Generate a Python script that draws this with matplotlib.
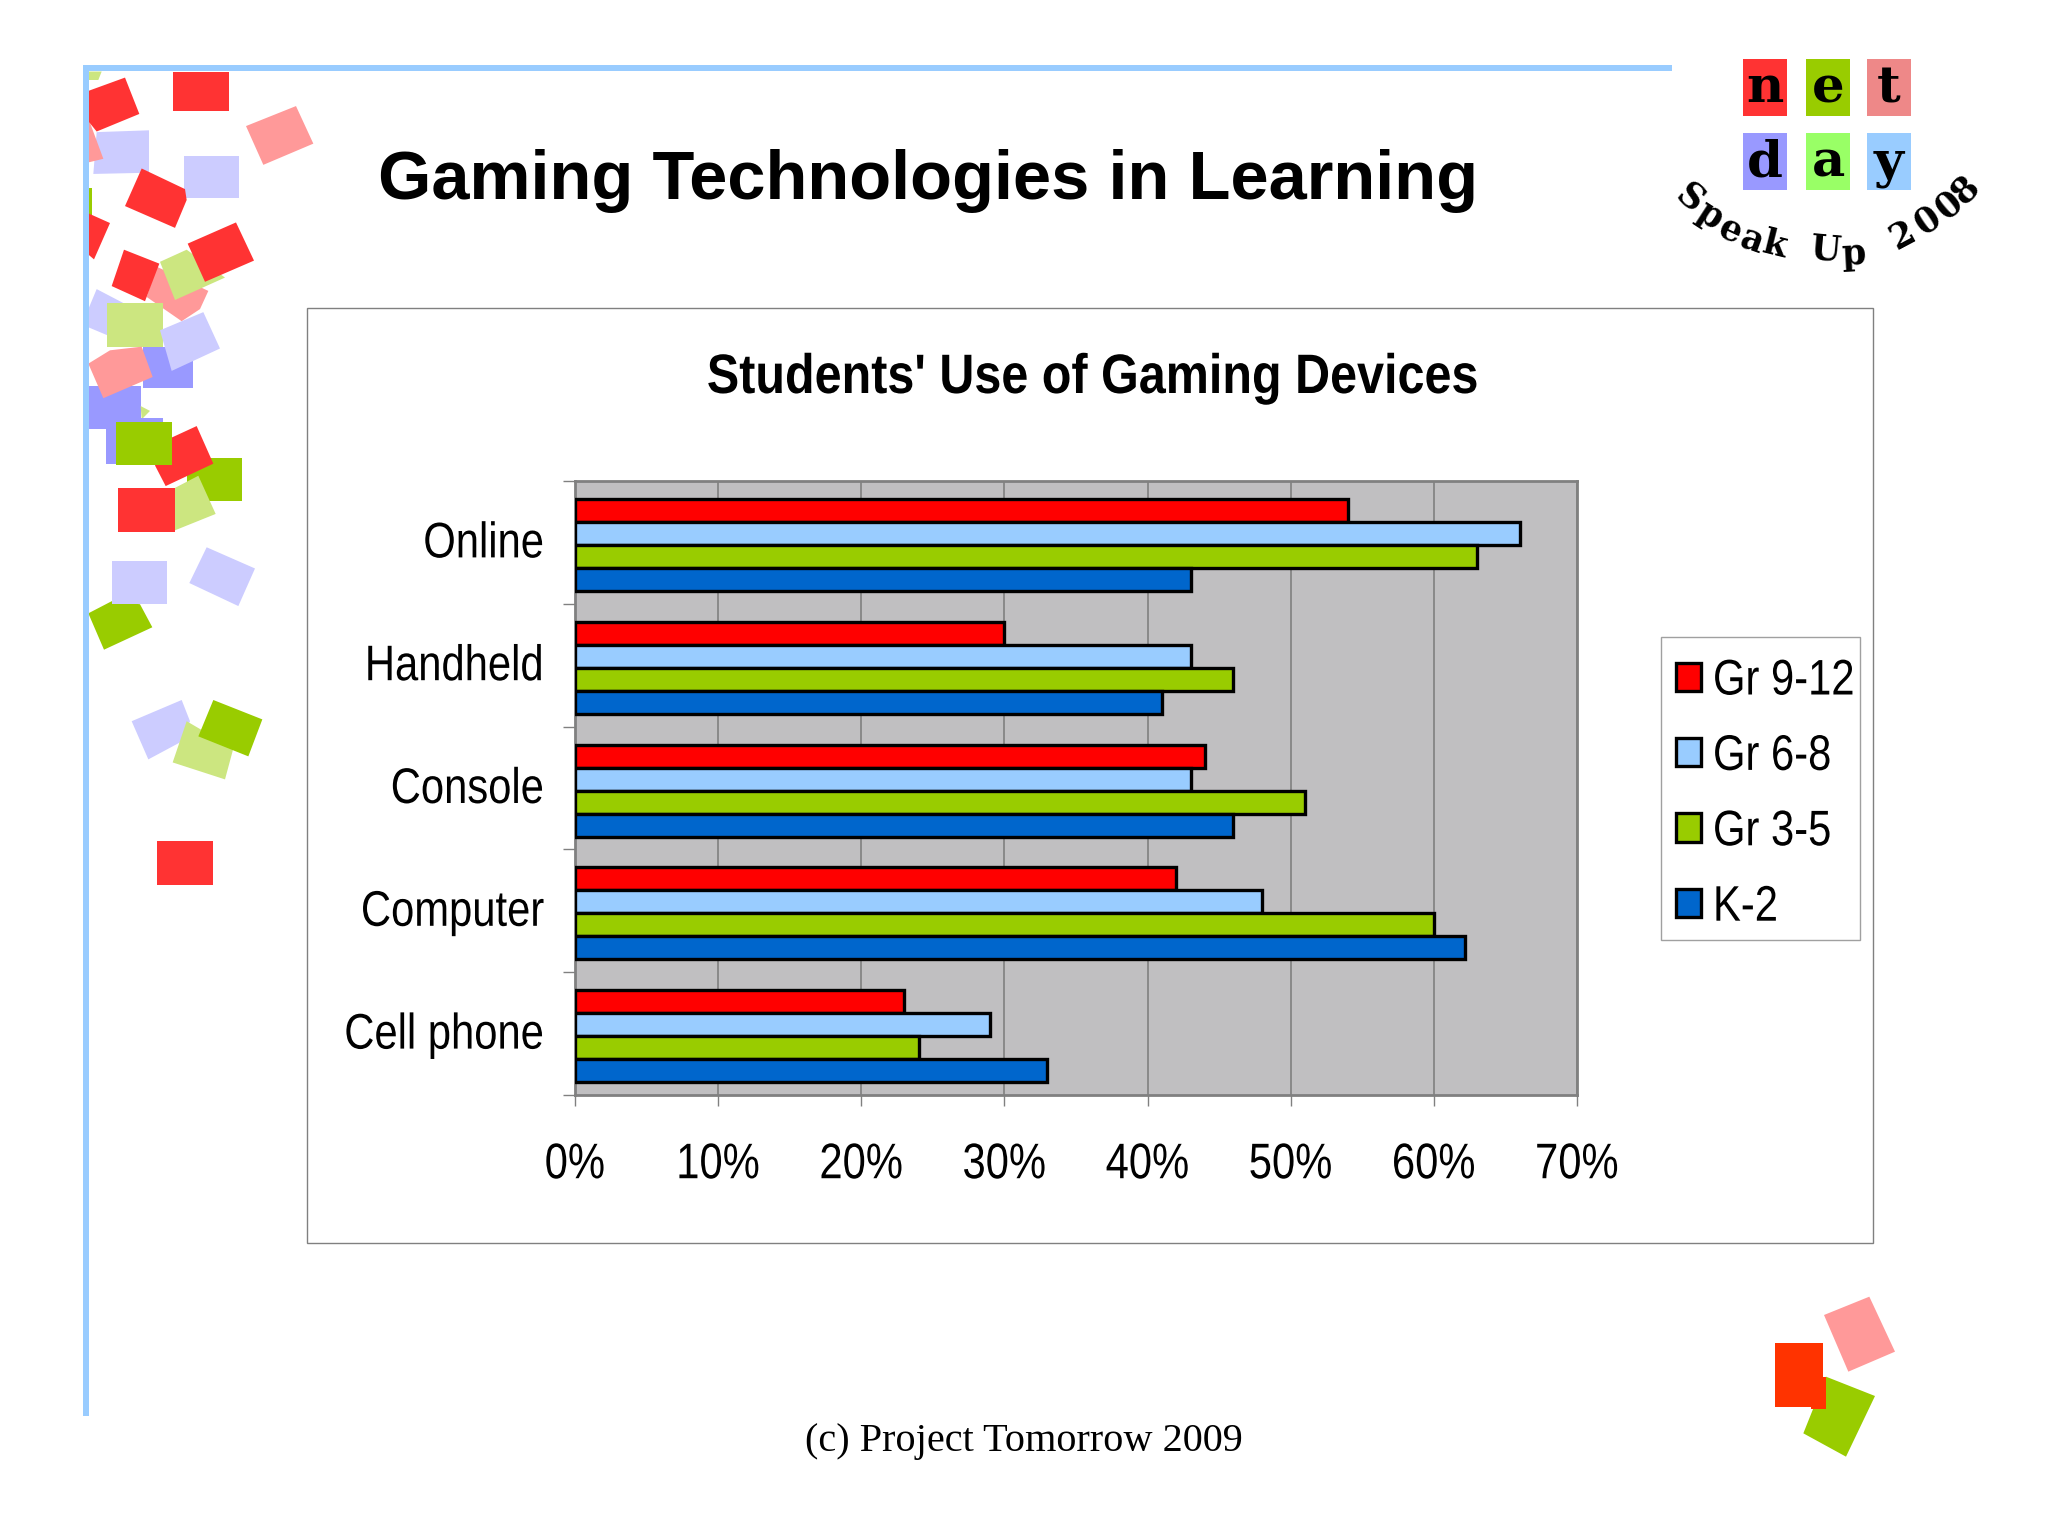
import matplotlib
matplotlib.use("Agg")
import matplotlib.pyplot as plt
from matplotlib.patches import Polygon, Rectangle
from matplotlib.patheffects import AbstractPathEffect
from matplotlib.transforms import Affine2D
import numpy as np

categories = ['Online', 'Handheld', 'Console', 'Computer', 'Cell phone']
grades = ['Gr 9-12', 'Gr 6-8', 'Gr 3-5', 'K-2']
gr_9_12 = [54, 30, 44, 42, 23]
gr_6_8 = [66, 43, 43, 48, 29]
gr_3_5 = [63, 46, 51, 60, 24]
k_2 = [43, 41, 46, 62.2, 33]
bar_colors = ['#FF0000', '#99CCFF', '#99CC00', '#0066CC']
x_ticks = [0, 10, 20, 30, 40, 50, 60, 70]

W, H = 2048, 1536
SANS = 'Liberation Sans'

RED = '#FF3333'
PINK = '#FF9999'
LAV = '#CCCCFF'
PERI = '#9999FF'
GREEN = '#99CC00'
LGREEN = '#CCE680'
BLUE = '#99CCFF'

confetti = [
    (LGREEN, [(265, 118), (305, 118), (295, 132), (265, 132)]),
    (LAV, [(290, 218), (447, 215), (447, 285), (280, 287)]),
    (PINK, [(265, 195), (310, 262), (265, 268)]),
    (RED, [(265, 150), (375, 128), (418, 188), (290, 217), (265, 200)]),
    (RED, [(520, 118), (688, 118), (688, 183), (520, 183)]),
    (PINK, [(738, 208), (888, 175), (940, 237), (790, 272)]),
    (LAV, [(552, 257), (717, 257), (717, 327), (552, 327)]),
    (RED, [(425, 278), (555, 312), (560, 330), (525, 376), (375, 340)]),
    (GREEN, [(265, 310), (275, 310), (275, 378), (265, 378)]),
    (RED, [(265, 352), (330, 368), (282, 428), (265, 420)]),
    (PINK, [(470, 440), (625, 480), (600, 510), (545, 530), (440, 490)]),
    (RED, [(372, 412), (478, 435), (435, 497), (335, 472)]),
    (LGREEN, [(480, 432), (560, 412), (675, 458), (525, 495)]),
    (RED, [(563, 402), (708, 367), (762, 430), (615, 465)]),
    (LAV, [(265, 510), (290, 477), (370, 500), (330, 555), (265, 540)]),
    (PERI, [(430, 572), (580, 572), (580, 640), (430, 640)]),
    (LGREEN, [(322, 500), (490, 500), (490, 572), (322, 572)]),
    (LAV, [(480, 545), (610, 515), (660, 575), (515, 612)]),
    (PERI, [(265, 637), (422, 637), (422, 708), (265, 708)]),
    (PINK, [(265, 600), (330, 578), (425, 572), (458, 622), (310, 657)]),
    (LGREEN, [(422, 670), (450, 678), (425, 692)]),
    (PERI, [(318, 690), (490, 690), (490, 765), (318, 765)]),
    (GREEN, [(560, 755), (725, 755), (725, 826), (560, 826)]),
    (RED, [(515, 722), (590, 703), (640, 765), (497, 802), (465, 768)]),
    (GREEN, [(347, 697), (515, 697), (515, 767), (347, 767)]),
    (LGREEN, [(525, 805), (595, 785), (647, 848), (525, 875)]),
    (RED, [(355, 805), (525, 805), (525, 877), (355, 877)]),
    (GREEN, [(265, 1012), (335, 992), (420, 997), (457, 1035), (312, 1072)]),
    (LAV, [(335, 925), (502, 925), (502, 996), (335, 996)]),
    (LAV, [(620, 903), (765, 938), (715, 1000), (568, 962)]),
    (LAV, [(395, 1190), (545, 1155), (570, 1190), (540, 1225), (445, 1253)]),
    (LGREEN, [(560, 1190), (700, 1235), (675, 1286), (518, 1258)]),
    (GREEN, [(640, 1155), (787, 1187), (745, 1248), (595, 1215)]),
    (RED, [(471, 1388), (640, 1388), (640, 1460), (471, 1460)]),
]

# the three squares at the bottom right, from a 3x crop at (1740, 1280)
corner_squares = [
    ('#FF9999', [(252, 105), (388, 50), (465, 215), (325, 275)]),
    ('#99CC00', [(258, 290), (405, 348), (318, 530), (190, 460)]),
    ('#FF3300', [(105, 190), (250, 190), (250, 290), (258, 290), (258, 388), (212, 388), (212, 382), (105, 382)]),
]

logo_letters = [
    ('n', 1743, 59, '#FF3333'), ('e', 1806, 59, '#99CC00'), ('t', 1867, 59, '#EE8888'),
    ('d', 1743, 133, '#9999FF'), ('a', 1806, 133, '#99FF66'), ('y', 1867, 133, '#99CCFF'),
]

# letter, x, y, rotation of the curved logo text
logo_curve = [
    ('S', 1690, 198, -40), ('p', 1710, 215, -33), ('e', 1730, 231, -25), ('a', 1752, 241, -20), ('k', 1775, 245, -14),
    ('U', 1826, 250, -5), ('p', 1853, 254, 3),
    ('2', 1903, 235, 28), ('0', 1928, 221, 34), ('0', 1949, 205, 40), ('8', 1965, 190, 46),
]


class Squeeze(AbstractPathEffect):
    """Narrow a text sideways, the chart font is a condensed Arial that isn't installed"""

    def __init__(self, factor, anchor):
        self.factor = factor
        self.anchor = anchor

    def draw_path(self, renderer, gc, tpath, affine, rgbFace=None):
        xs = affine.transform(tpath.vertices)[:, 0]
        x0 = {'left': xs.min(), 'right': xs.max(), 'center': (xs.min() + xs.max()) / 2}[self.anchor]
        squeezed = affine + Affine2D().translate(-x0, 0).scale(self.factor, 1).translate(x0, 0)
        renderer.draw_path(gc, tpath, squeezed, rgbFace)


fig = plt.figure(figsize=(W / 100, H / 100), dpi=100, facecolor='white')

# page level decoration, in pixels
page = fig.add_axes([0, 0, 1, 1], zorder=0)
page.set_xlim(0, W)
page.set_ylim(H, 0)
page.axis('off')

for color, pts in confetti:
    page.add_patch(Polygon([(x / 3, y / 1.65) for x, y in pts], closed=True, facecolor=color, edgecolor='none'))
for color, pts in corner_squares:
    page.add_patch(Polygon([(1740 + x / 3, 1280 + y / 3) for x, y in pts], closed=True, facecolor=color, edgecolor='none'))

page.add_patch(Rectangle((83, 65), 1589, 6, facecolor=BLUE, edgecolor='none'))
page.add_patch(Rectangle((83, 65), 6, 1351, facecolor=BLUE, edgecolor='none'))
page.add_patch(Rectangle((307, 308), 1566, 935, facecolor='white', edgecolor='#808080', linewidth=1))
page.add_patch(Rectangle((1661, 637), 199, 303, facecolor='white', edgecolor='#A0A0A0', linewidth=1))

for letter, x, y, color in logo_letters:
    page.add_patch(Rectangle((x, y), 44, 57, facecolor=color, edgecolor='none'))
    page.text(x + 22, y + 30, letter, ha='center', va='center', fontsize=37, fontweight='bold',
              family='DejaVu Serif', color='black')
for letter, x, y, rot in logo_curve:
    page.text(x, y, letter, ha='center', va='center', rotation=rot, rotation_mode='anchor',
              fontsize=25, fontweight='bold', family='DejaVu Serif', color='black')

page.text(928, 181, 'Gaming Technologies in Learning', ha='center', va='center', fontsize=49.4,
          fontweight='bold', family=SANS, color='black')
page.text(1023.5, 1441, '(c) Project Tomorrow 2009', ha='center', va='center', fontsize=29,
          family='Liberation Serif', color='black')
page.text(1092, 379, "Students' Use of Gaming Devices", ha='center', va='center', fontsize=40,
          fontweight='bold', family=SANS, color='black', path_effects=[Squeeze(0.873, 'center')])

# the chart
left, right, top, bottom = 575, 1577, 481, 1095
ax = fig.add_axes([left / W, 1 - bottom / H, (right - left) / W, (bottom - top) / H], zorder=1)
ax.set_facecolor('#C0BFC1')

series = [gr_9_12, gr_6_8, gr_3_5, k_2]
bar_h = 0.1875
pad = 0.146
y0 = np.arange(len(categories))
for j, values in enumerate(series):
    ax.barh(y0 + pad + (j + 0.5) * bar_h, values, height=bar_h, color=bar_colors[j],
            edgecolor='black', linewidth=2.4, label=grades[j], zorder=3)

ax.set_xlim(0, 70)
ax.set_ylim(len(categories), 0)
ax.set_xticks(x_ticks)
ax.set_xticklabels([f'{v}%' for v in x_ticks], fontsize=36, family=SANS)
ax.set_yticks(np.arange(len(categories) + 1))
ax.set_yticklabels([])
ax.set_yticks(y0 + 0.5, minor=True)
ax.set_yticklabels(categories, minor=True, fontsize=36, family=SANS)
ax.tick_params(axis='y', which='major', length=9, width=1, color='#808080')
ax.tick_params(axis='y', which='minor', length=0, pad=22)
ax.tick_params(axis='x', which='major', length=8, width=1, color='#808080', pad=26)
ax.grid(axis='x', color='#808080', linewidth=1.2, zorder=1)
ax.set_axisbelow(True)
for side in ax.spines:
    ax.spines[side].set_color('#808080')
    ax.spines[side].set_linewidth(2)

for label in ax.get_xticklabels():
    label.set_path_effects([Squeeze(0.835, 'center')])
for label in ax.get_yticklabels(minor=True):
    label.set_path_effects([Squeeze(0.835, 'right')])
    # nudge up a little, the labels sit just above the middle of each group
    label.set_transform(label.get_transform() + Affine2D().translate(0, 3))

legend = ax.legend(loc='upper left', bbox_to_anchor=(1654.5 / W, 1 - 637 / H), bbox_transform=fig.transFigure,
                   borderaxespad=0, frameon=False, prop={'family': SANS, 'size': 36},
                   handlelength=0.5, handleheight=0.5, handletextpad=0.24, labelspacing=0.588, borderpad=0.43)
for text in legend.get_texts():
    text.set_path_effects([Squeeze(0.835, 'left')])

fig.savefig('out.png', dpi=100)
